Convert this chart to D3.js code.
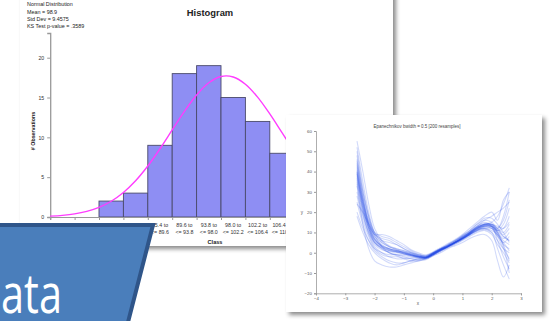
<!DOCTYPE html>
<html><head><meta charset="utf-8">
<script src="https://cdn.jsdelivr.net/npm/d3@7"></script>
<style>html,body{margin:0;padding:0;background:#fff;overflow:hidden}svg{display:block}</style>
</head><body><svg id="c" width="552" height="321"></svg>
<script>
// ---------- Histogram data ----------
const histStats = ["Normal Distribution", "Mean = 98.9", "Std Dev = 9.4575", "KS Test p-value = .3589"];
const binEdges = [68.6, 72.8, 77.0, 81.2, 85.4, 89.6, 93.8, 98.0, 102.2, 106.4, 110.6];
const binCounts = [0, 0, 2, 3, 9, 18, 19, 15, 12, 8];
const binLabelTop = ["", "", "77.0 to", "81.2 to", "85.4 to", "89.6 to", "93.8 to", "98.0 to", "102.2 to", "106.4 to"];
const binLabelBottom = ["", "", "<= 81.2", "<= 85.4", "<= 89.6", "<= 93.8", "<= 98.0", "<= 102.2", "<= 106.4", "<= 110.6"];
const histYTicks = [0, 5, 10, 15, 20];
const normX = [68.6, 70.7, 72.8, 74.9, 77.0, 79.1, 81.2, 83.3, 85.4, 87.5, 89.6, 91.7, 93.8, 95.9, 98.0, 100.1, 102.2, 104.3, 106.4, 108.5, 110.6, 112.7];
const normY = [0.11, 0.21, 0.39, 0.71, 1.21, 1.98, 3.08, 4.55, 6.40, 8.57, 10.93, 13.26, 15.32, 16.85, 17.64, 17.58, 16.67, 15.05, 12.94, 10.59, 8.24, 6.11];

// ---------- Kernel regression (bootstrap) data ----------
const kernelTitle = "Epanechnikov bwidth = 0.5 [200 resamples]";
const kernelXTicks = [-4, -3, -2, -1, 0, 1, 2, 3];
const kernelYTicks = [-20, -10, 0, 10, 20, 30, 40, 50, 60];
const kernelX = [-2.6, -2.4, -2.2, -2.0, -1.75, -1.5, -1.25, -1.0, -0.75, -0.5, -0.25, 0, 0.25, 0.5, 0.75, 1.0, 1.25, 1.5, 1.75, 2.0, 2.2, 2.4, 2.6];
const kernelCurves = [
  [48, 30, 17, 8, 4, 2, 1, 0, -1, -2, -2.5, -1, 1, 3, 5, 7, 9.5, 12, 14, 14, 12, 18, 30],
  [35, 20, 10, 4, 1.5, 0.5, 0, -0.5, -1.5, -2.5, -3, -1, 1.5, 3.5, 5.5, 8, 10.5, 13, 15, 13, 6, -2, -8],
  [52, 35, 20, 10, 5, 3, 2, 1, 0, -1, -1.5, 0, 2, 4, 6, 8.5, 11, 14, 17, 17, 14, 10, 5],
  [28, 16, 8, 2, -1, -2, -2, -2.5, -3, -3.5, -3, -1.5, 0.5, 2.5, 4, 6, 8, 10, 11, 9, 4, 0, -5],
  [42, 26, 14, 7, 3.5, 2, 1, 0.5, -0.5, -1.5, -2, -0.5, 1.5, 3, 5, 7, 9, 11.5, 13, 13, 11, 14, 22],
  [38, 22, 12, 5, 2, 0, -1, -2, -3, -3, -2.5, -0.5, 1.5, 3, 5, 7.5, 10, 12.5, 14, 15, 18, 24, 32],
  [45, 28, 15, 9, 6, 5, 4, 2, 0, -1.5, -2, -0.5, 1.5, 3.5, 5, 7, 9.5, 12, 13, 12, 8, 2, -3],
  [30, 18, 10, 5, 2, 0, -1.5, -3, -4, -4, -3, -1, 1, 3, 5, 7, 9, 11, 12, 11, 9, 6, 4],
  [55, 40, 24, 12, 6, 3, 1.5, 0.5, -0.5, -1.5, -2, 0, 2, 3.5, 5.5, 7.5, 10, 12.5, 14, 14, 10, 3, -10],
  [20, 12, 6, 2, 0, -1, -1, -1.5, -2, -2.5, -2.5, -1, 1, 2.5, 4.5, 6.5, 9, 11, 12.5, 12, 8, 5, 1],
  [40, 24, 14, 8, 5, 3, 1.5, 0, -1, -2, -2.5, -1, 1, 3, 5, 7.5, 10, 13, 16, 18, 20, 22, 25],
  [33, 19, 9, 3, 0, -2, -3, -3, -2.5, -2.5, -2.5, -0.5, 1.5, 3, 5, 7, 9.5, 11.5, 12, 10, 2, -6, -13],
  [46, 30, 18, 10, 6, 3.5, 2, 1, 0, -1, -2, -0.5, 1.5, 3.5, 5.5, 8, 10.5, 13, 14.5, 14, 13, 12, 15],
  [25, 14, 6, 1, -2, -4, -5, -5, -4, -3.5, -3, -1, 1, 3, 4.5, 6.5, 8.5, 10.5, 11.5, 10, 6, 2, 0],
  [40, 25, 15, 9, 7, 6, 4, 2, 0.5, -1, -1.5, 0, 2, 4, 6, 8, 10, 12.5, 14, 13, 9, 5, 8],
  [36, 21, 11, 5, 2.5, 1, 0.5, -0.5, -1.5, -2, -2.5, -0.5, 1.5, 3, 4.5, 6.5, 9, 11, 13, 13, 11, 9, 12],
  [50, 32, 18, 9, 3, 0, -1, -1, -1.5, -2, -2, 0, 2, 4, 6, 8.5, 11, 14, 16, 15, 12, 16, 26],
  [18, 10, 4, 0, -3, -5, -6, -5, -4, -3, -2.5, -0.5, 1.5, 3, 5, 7, 9, 11, 12, 12, 10, 4, -4],
  [44, 27, 16, 10, 8, 7, 5, 3, 1, -0.5, -1.5, 0, 2, 3.5, 5, 7, 9, 11.5, 13.5, 14, 12, 8, 6],
  [39, 23, 12, 6, 3, 1.5, 0.5, 0, -1, -2, -2.5, -1, 1, 3, 5, 7, 9.5, 12, 13.5, 13, 10, 7, 10],
  [41, 25, 13, 6.5, 3.5, 2, 1, 0, -1, -1.8, -2.3, -0.8, 1.3, 3.2, 5, 7.2, 9.5, 12, 13.5, 12.5, 9, 4, 2],
  [37, 22, 12, 5.5, 2.5, 1, 0.5, -0.5, -1.2, -2, -2.5, -0.3, 1.7, 3.3, 5.2, 7.4, 9.8, 12.3, 13.8, 13.5, 11, 12, 18],
  [24, 20, 14, 9, 9, 8, 6, 4, 1.5, 0, -1, 0.5, 2.5, 4.5, 6.5, 9, 12, 15, 18, 20, 16, 26, 30],
  [34, 14, 2, -4, -6, -7, -7, -6, -5, -4, -3.5, -1.5, 0, 2, 3.5, 5, 7, 8.5, 9, 6, -4, -12, -6],
  [43, 27, 14, 7, 3, 1.2, 0.3, -0.6, -1.4, -2.1, -2.4, -0.6, 1.4, 3.1, 4.9, 7, 9.3, 11.8, 13.2, 13, 10.5, 8, 6],
  [39, 24, 13, 6.5, 3.2, 1.8, 0.9, 0.2, -0.8, -1.6, -2.1, -0.4, 1.6, 3.4, 5.3, 7.6, 10, 12.5, 14, 13.6, 11.5, 10, 14]
];
const bannerText = "ata";

// ---------- Drawing ----------
const svg = d3.select("#c");
const FONT = "Liberation Sans, Arial, sans-serif";
const defs = svg.append("defs");
const sh = defs.append("filter").attr("id", "shadow").attr("x", "-10%").attr("y", "-10%").attr("width", "125%").attr("height", "125%");
sh.append("feDropShadow").attr("dx", 3).attr("dy", 3).attr("stdDeviation", 2.2)
  .attr("flood-color", "#000").attr("flood-opacity", 0.45);

// Panel 1 : histogram
svg.append("rect").attr("x", 20).attr("y", -10).attr("width", 373).attr("height", 256)
  .attr("fill", "#fff").attr("filter", "url(#shadow)");

const hx = d3.scaleLinear().domain([68.6, 110.6]).range([50.2, 294.2]);
const hy = d3.scaleLinear().domain([0, 23.1]).range([217, 33]);
const hist = svg.append("g");

hist.selectAll("text.stat").data(histStats).join("text")
  .attr("x", 27).attr("y", (d, i) => 6.3 + i * 7.3)
  .attr("font-family", FONT).attr("font-size", 5.4).attr("fill", "#222").text(d => d);

hist.append("text").attr("x", 210).attr("y", 16).attr("text-anchor", "middle")
  .attr("font-family", FONT).attr("font-size", 9.4).attr("font-weight", "bold").attr("fill", "#222").text("Histogram");

// bars
const bins = binCounts.map((c, i) => ({ x0: binEdges[i], x1: binEdges[i + 1], c, top: binLabelTop[i], bot: binLabelBottom[i] }));
hist.selectAll("rect.bar").data(bins.filter(b => b.c > 0)).join("rect")
  .attr("x", d => hx(d.x0)).attr("width", d => hx(d.x1) - hx(d.x0))
  .attr("y", d => hy(d.c)).attr("height", d => hy(0) - hy(d.c))
  .attr("fill", "#8e8ef3").attr("stroke", "#4a4a6a").attr("stroke-width", 0.9);

// axes
const yAxis = d3.axisLeft(hy).tickValues(histYTicks).tickSize(3).tickPadding(3);
const gy = hist.append("g").attr("transform", "translate(50.2,0)").call(yAxis);
gy.select(".domain").attr("stroke", "#999").attr("stroke-width", 1.3);
gy.selectAll(".tick line").attr("stroke", "#999");
gy.selectAll(".tick text").attr("font-family", FONT).attr("font-size", 5.2).attr("fill", "#333");

const xAxis = d3.axisBottom(hx).tickValues(binEdges).tickSize(3).tickFormat("");
const gx = hist.append("g").attr("transform", "translate(0,217)").call(xAxis);
gx.select(".domain").attr("stroke", "#999").attr("stroke-width", 1.1);
gx.selectAll(".tick line").attr("stroke", "#999");

hist.selectAll("text.bl1").data(bins.filter(b => b.c > 0)).join("text")
  .attr("x", d => (hx(d.x0) + hx(d.x1)) / 2).attr("y", 226.5).attr("text-anchor", "middle")
  .attr("font-family", FONT).attr("font-size", 5.3).attr("fill", "#333").text(d => d.top);
hist.selectAll("text.bl2").data(bins.filter(b => b.c > 0)).join("text")
  .attr("x", d => (hx(d.x0) + hx(d.x1)) / 2).attr("y", 233.5).attr("text-anchor", "middle")
  .attr("font-family", FONT).attr("font-size", 5.3).attr("fill", "#333").text(d => d.bot);
hist.append("text").attr("x", 215).attr("y", 244).attr("text-anchor", "middle")
  .attr("font-family", FONT).attr("font-size", 5.6).attr("font-weight", "bold").attr("fill", "#222").text("Class");
hist.append("text").attr("transform", "translate(34.5,131) rotate(-90)").attr("text-anchor", "middle")
  .attr("font-family", FONT).attr("font-size", 5.3).attr("font-weight", "bold").attr("fill", "#222").text("# Observations");

// normal curve
hist.append("path").datum(normX.map((x, i) => [x, normY[i]]))
  .attr("d", d3.line().x(d => hx(d[0])).y(d => hy(d[1])).curve(d3.curveCatmullRom))
  .attr("fill", "none").attr("stroke", "#ff3cff").attr("stroke-width", 1.4);

// Panel 2 : kernel regression
svg.append("rect").attr("x", 286).attr("y", 115).attr("width", 256).attr("height", 197)
  .attr("fill", "#fff").attr("filter", "url(#shadow)");
const kx = d3.scaleLinear().domain([-4, 3]).range([316, 521]);
const ky = d3.scaleLinear().domain([-20, 60]).range([293.3, 131]);
const kg = svg.append("g");

kg.append("text").attr("x", 417).attr("y", 128).attr("text-anchor", "middle")
  .attr("font-family", FONT).attr("font-size", 4.5).attr("fill", "#444").text(kernelTitle);

const kxa = kg.append("g").attr("transform", "translate(0,293.3)")
  .call(d3.axisBottom(kx).tickValues(kernelXTicks).tickSize(2).tickPadding(2).tickFormat(d3.format("d")));
const kya = kg.append("g").attr("transform", "translate(316,0)")
  .call(d3.axisLeft(ky).tickValues(kernelYTicks).tickSize(2).tickPadding(2).tickFormat(d3.format("d")));
[kxa, kya].forEach(g => {
  g.select(".domain").attr("stroke", "#999").attr("stroke-width", 0.8);
  g.selectAll(".tick line").attr("stroke", "#999");
  g.selectAll(".tick text").attr("font-family", FONT).attr("font-size", 4.4).attr("fill", "#555");
});
kg.append("text").attr("x", 418).attr("y", 305).attr("text-anchor", "middle")
  .attr("font-family", FONT).attr("font-size", 4.6).attr("fill", "#555").text("x");
kg.append("text").attr("x", 302).attr("y", 214).attr("text-anchor", "middle")
  .attr("font-family", FONT).attr("font-size", 4.6).attr("fill", "#555").text("y");

const kline = d3.line().x((d, i) => kx(kernelX[i])).y(d => ky(d)).curve(d3.curveCatmullRom);
kg.append("g").selectAll("path").data(kernelCurves).join("path")
  .attr("d", kline).attr("fill", "none").attr("stroke", "#1c46e8")
  .attr("stroke-width", 1.1).attr("stroke-opacity", 0.2);

// Banner
const banner = svg.append("g");
banner.append("path")
  .attr("d", d3.line()([[-5, 225], [153, 225], [126, 330], [-5, 330]]) + "Z")
  .attr("fill", "#4a7ebb").attr("stroke", "#2f5589").attr("stroke-width", 4).attr("stroke-linejoin", "miter");
banner.append("text").attr("x", 1).attr("y", 313)
  .attr("font-family", "Open Sans, sans-serif").attr("font-size", 54).attr("fill", "#fff")
  .attr("textLength", 61).attr("lengthAdjust", "spacingAndGlyphs").text(bannerText);
</script></body></html>
